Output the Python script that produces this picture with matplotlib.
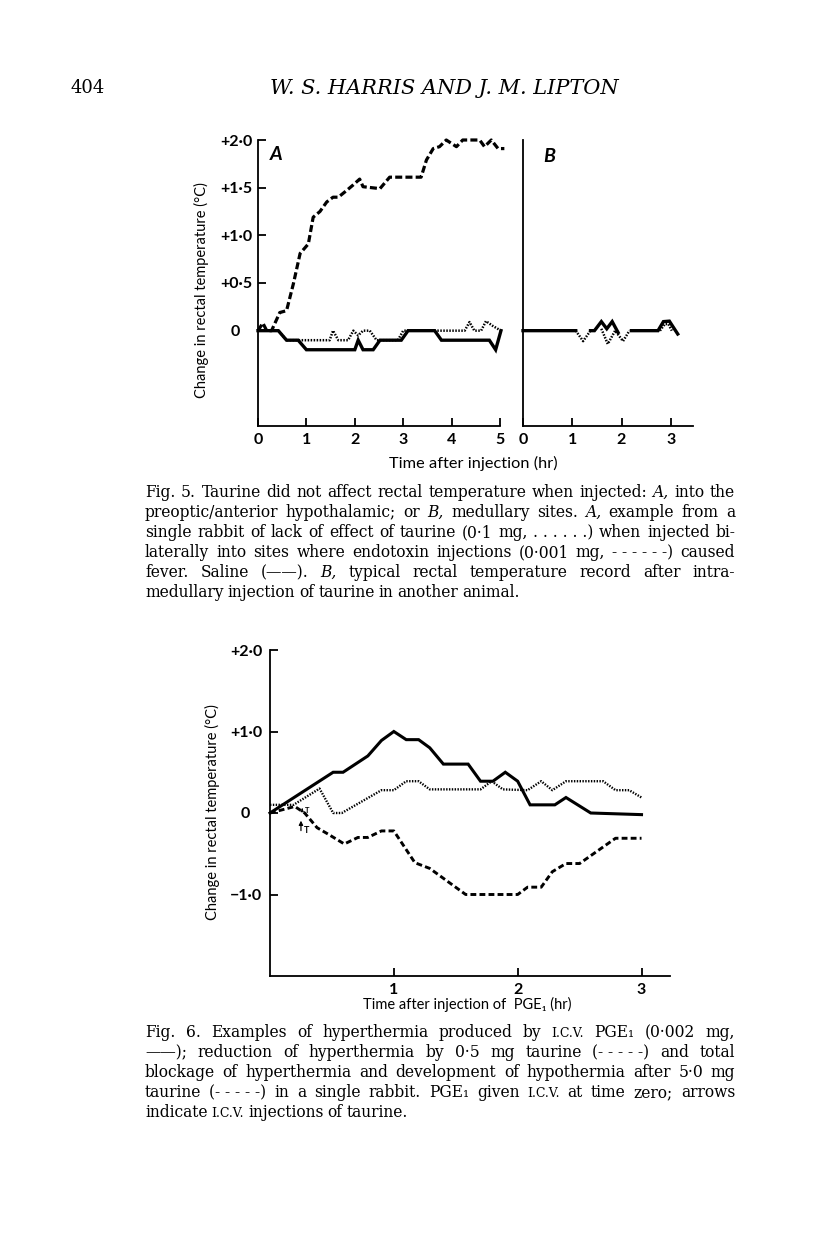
import numpy as np
import matplotlib
matplotlib.use('Agg')
import matplotlib.pyplot as plt

plt.rcParams['font.family'] = ['Lato', 'DejaVu Sans']

W, H = 816, 1234
nan = np.nan

# Fig. 5A - endotoxin (dashed), taurine (dotted), saline (solid); hours vs deg C
a_endo_t = [0, 0.1, 0.18, 0.28, 0.45, 0.59, 0.73, 0.87, 1.04, 1.14, 1.28, 1.42, 1.55, 1.66,
            1.83, 1.97, 2.10, 2.17, 2.52, 2.72, 3.37, 3.48, 3.62, 3.75, 3.89, 4.10, 4.23,
            4.58, 4.68, 4.82, 4.96, 5.09]
a_endo_v = [0, 0.08, 0, 0, 0.19, 0.21, 0.49, 0.81, 0.91, 1.19, 1.25, 1.35, 1.40, 1.40,
            1.47, 1.53, 1.59, 1.51, 1.49, 1.61, 1.61, 1.79, 1.91, 1.93, 2.0, 1.93, 2.0,
            2.0, 1.93, 2.0, 1.91, 1.91]
a_taur_t = [0, 0.42, 0.59, 1.0, 1.48, 1.55, 1.66, 1.86, 1.97, 2.07, 2.17, 2.31, 2.45, 2.89,
            3.0, 4.27, 4.37, 4.47, 4.61, 4.71, 4.85, 5.02]
a_taur_v = [0, 0, -0.1, -0.1, -0.1, 0, -0.1, -0.1, 0, -0.05, 0, 0, -0.1, -0.1,
            0, 0, 0.09, 0, 0, 0.1, 0.05, 0]
a_sal_t = [0, 0.42, 0.59, 0.83, 1.0, 2.0, 2.07, 2.17, 2.38, 2.52, 2.96, 3.1, 3.65, 3.79,
           4.78, 4.91, 5.02]
a_sal_v = [0, 0, -0.1, -0.1, -0.2, -0.2, -0.1, -0.2, -0.2, -0.1, -0.1, 0, 0, -0.1,
           -0.1, -0.2, 0]

# Fig. 5B - intramedullary taurine record
b_sal_t = [0, 1.07, nan, 1.37, 1.45, 1.59, 1.70, 1.81, 1.93, nan, 2.2, 2.74, 2.85, 2.97, 3.14]
b_sal_v = [0, 0, nan, 0, 0, 0.095, 0.02, 0.095, -0.02, nan, 0, 0, 0.095, 0.1, -0.035]
b_taur_t = [1.07, 1.22, 1.37, nan, 1.59, 1.72, 1.87, 2.03, 2.16, nan, 2.78, 2.88, 2.95, 3.02]
b_taur_v = [0, -0.11, 0, nan, 0.02, -0.14, 0, -0.11, 0, nan, 0, 0.07, 0.07, 0]

# Fig. 6 - PGE1 alone (solid), + 0.5 mg taurine (dotted), + 5.0 mg taurine (dashed)
pge_t = [0, 0.51, 0.59, 0.79, 0.90, 1.0, 1.10, 1.20, 1.29, 1.40, 1.60, 1.70, 1.80, 1.90,
         2.0, 2.10, 2.30, 2.39, 2.59, 3.0]
pge_v = [0, 0.5, 0.5, 0.7, 0.89, 1.0, 0.9, 0.9, 0.8, 0.6, 0.6, 0.39, 0.39, 0.5,
         0.39, 0.1, 0.1, 0.19, 0, -0.02]
low_t = [0, 0.19, 0.40, 0.51, 0.58, 0.82, 0.90, 1.0, 1.10, 1.20, 1.29, 1.70, 1.79, 1.88,
         2.08, 2.19, 2.28, 2.39, 2.69, 2.79, 2.90, 3.0]
low_v = [0.1, 0.1, 0.3, 0, 0, 0.21, 0.28, 0.28, 0.39, 0.39, 0.29, 0.29, 0.39, 0.29,
         0.28, 0.39, 0.28, 0.39, 0.39, 0.28, 0.28, 0.19]
high_t = [0, 0.20, 0.28, 0.38, 0.47, 0.60, 0.71, 0.79, 0.90, 1.0, 1.17, 1.29, 1.58, 2.0,
          2.08, 2.19, 2.28, 2.39, 2.50, 2.79, 3.0]
high_v = [0, 0.08, 0, -0.18, -0.26, -0.38, -0.30, -0.30, -0.22, -0.22, -0.61, -0.68, -1.0, -1.0,
          -0.91, -0.91, -0.72, -0.62, -0.62, -0.31, -0.31]

fig5_yticks = [0, 0.5, 1.0, 1.5, 2.0]
fig5_ylabels = ['0   ', '+0·5', '+1·0', '+1·5', '+2·0']
fig6_yticks = [-1.0, 0, 1.0, 2.0]
fig6_ylabels = ['\u22121·0', '0   ', '+1·0', '+2·0']

caption5 = [
    "Fig. 5. Taurine did not affect rectal temperature when injected: *A, into the",
    "preoptic/anterior hypothalamic; or *B, medullary sites. *A, example from a",
    "single rabbit of lack of effect of taurine (0·1 mg, .\u00a0.\u00a0.\u00a0.\u00a0.\u00a0.) when injected bi-",
    "laterally into sites where endotoxin injections (0·001 mg, -\u00a0-\u00a0-\u00a0-\u00a0-\u00a0-) caused",
    "fever. Saline (\u2014\u2014). *B, typical rectal temperature record after intra-",
    "medullary injection of taurine in another animal.",
]
caption6 = [
    "Fig. 6. Examples of hyperthermia produced by ^I.C.V. PGE\u2081 (0·002 mg,",
    "\u2014\u2014); reduction of hyperthermia by 0·5 mg taurine (-\u00a0-\u00a0-\u00a0-\u00a0-) and total",
    "blockage of hyperthermia and development of hypothermia after 5·0 mg",
    "taurine (-\u00a0-\u00a0-\u00a0-\u00a0-) in a single rabbit. PGE\u2081 given ^I.C.V. at time zero; arrows",
    "indicate ^I.C.V. injections of taurine.",
]

fig = plt.figure(figsize=(W / 100, H / 100), dpi=100)


def box(left, top, right, bottom):
    return [left / W, 1 - bottom / H, (right - left) / W, (bottom - top) / H]


def style_axes(ax, pad):
    for s in ['top', 'right']:
        ax.spines[s].set_visible(False)
    for s in ['left', 'bottom']:
        ax.spines[s].set_linewidth(1.3)
    ax.tick_params(direction='in', length=6, width=1.3, labelsize=11.5)
    ax.tick_params(axis='y', pad=pad)
    ax.tick_params(axis='x', pad=5)
    ax.set_facecolor('none')


solid = dict(color='black', lw=2.4, ls='-', clip_on=False, solid_joinstyle='miter')
dashed = dict(color='black', lw=2.3, ls=(0, (2.2, 1.0)), clip_on=False)
dotted = dict(color='black', lw=1.8, ls=(0, (0.6, 0.6)), clip_on=False)

# ---- Fig. 5A
axA = fig.add_axes(box(258, 140, 500, 426))
axA.plot(a_taur_t, a_taur_v, **dotted)
axA.plot(a_endo_t, a_endo_v, **dashed)
axA.plot(a_sal_t, a_sal_v, **solid)
axA.set_xlim(0, 5)
axA.set_ylim(-1.0, 2.0)
axA.set_xticks(range(6), [str(i) for i in range(6)], fontweight='bold')
axA.set_yticks(fig5_yticks, fig5_ylabels, fontweight='bold')
style_axes(axA, 4.3)
axA.text(0.25, 1.85, 'A', fontsize=14, style='italic', fontweight='bold', va='center')

# ---- Fig. 5B
axB = fig.add_axes(box(523, 140, 693, 426))
axB.plot(b_taur_t, b_taur_v, **dotted)
axB.plot(b_sal_t, b_sal_v, **solid)
axB.set_xlim(0, 3.45)
axB.set_ylim(-1.0, 2.0)
axB.set_xticks(range(4), [str(i) for i in range(4)], fontweight='bold')
axB.set_yticks([])
style_axes(axB, 4.3)
axB.text(0.42, 1.83, 'B', fontsize=14, style='italic', fontweight='bold', va='center')

fig.text(201 / W, 1 - 290 / H, 'Change in rectal temperature (°C)', rotation=90,
         ha='center', va='center', fontsize=10.5)
fig.text(473 / W, 1 - 463 / H, 'Time after injection (hr)', ha='center', va='center',
         fontsize=11.8)

# ---- Fig. 6
ax6 = fig.add_axes(box(270, 650, 670, 976))
ax6.plot(low_t, low_v, **dict(dotted, lw=1.7))
ax6.plot(high_t, high_v, **dict(dashed, lw=2.1, ls=(0, (2.0, 1.1))))
ax6.plot(pge_t, pge_v, **dict(solid, lw=2.2))
ax6.set_xlim(0, 3.23)
ax6.set_ylim(-2.0, 2.0)
ax6.set_xticks([1, 2, 3], ['1', '2', '3'], fontweight='bold')
ax6.set_yticks(fig6_yticks, fig6_ylabels, fontweight='bold')
style_axes(ax6, 5.5)
ax6.annotate('', xy=(0.25, -0.06), xytext=(0.25, -0.25),
             arrowprops=dict(arrowstyle='-|>', lw=0.9, color='black', mutation_scale=6))
ax6.text(0.275, -0.22, 'T', fontsize=6.5, fontweight='bold', va='center')
ax6.annotate('', xy=(0.26, 0.09), xytext=(0.26, 0.01),
             arrowprops=dict(arrowstyle='-|>', lw=0.7, color='black', mutation_scale=4))
ax6.text(0.285, 0.03, 'T', fontsize=5.5, fontweight='bold', va='center')

fig.text(212 / W, 1 - 812 / H, 'Change in rectal temperature (°C)', rotation=90,
         ha='center', va='center', fontsize=10.5)
fig.text(467 / W, 1 - 1004 / H, 'Time after injection of  PGE\u2081 (hr)', ha='center',
         va='center', fontsize=10.5)

# ---- header
serif = ['DejaVu Serif']
fig.text(88 / W, 1 - 88 / H, '404', ha='center', va='center', fontsize=13, family=serif)
fig.text(444 / W, 1 - 88 / H, 'W. S. HARRIS AND J. M. LIPTON', ha='center', va='center',
         fontsize=15, style='italic', family=serif)

# ---- captions, justified word by word
renderer = fig.canvas.get_renderer()


def put_line(line, base_y, justify, x0=145, x1=735, size=11.2):
    items = []
    for w in line.split(' '):
        st, fs = 'normal', size
        if w.startswith('*'):
            w, st = w[1:], 'italic'
        if w.startswith('^'):
            w, fs = w[1:], size * 0.8
        items.append(fig.text(0, 1 - base_y / H, w, fontsize=fs, style=st, family=serif,
                              va='baseline', ha='left'))
    widths = [t.get_window_extent(renderer).width for t in items]
    if justify and len(items) > 1:
        gap = (x1 - x0 - sum(widths)) / (len(items) - 1)
    else:
        gap = size * 0.36
    x = x0
    for t, w in zip(items, widths):
        t.set_x(x / W)
        x += w + gap


for i, line in enumerate(caption5):
    put_line(line, 497 + i * 20, i < len(caption5) - 1)
for i, line in enumerate(caption6):
    put_line(line, 1037 + i * 20, i < len(caption6) - 1)

fig.savefig('out.png', dpi=100)
